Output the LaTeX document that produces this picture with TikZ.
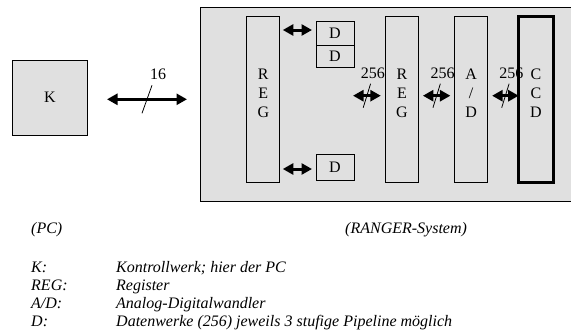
\documentclass[tikz,border=0pt]{standalone}
\usepackage{fontspec}
\setmainfont{Liberation Serif}
\usetikzlibrary{arrows.meta, calc, positioning}
\definecolor{panel}{HTML}{E0E0E0}
\tikzset{
  unit/.style={draw, fill=panel, line width=1pt, inner sep=0pt, outer sep=0pt},
  col/.style={unit, minimum width=33pt, minimum height=166pt},
  coltext/.style={align=center, inner sep=0pt},
  dbox/.style={unit, minimum width=38pt},
  bus/.style={{Triangle[length=10.5pt,width=11pt]}-{Triangle[length=10.5pt,width=11pt]}, line width=3pt},
  slash/.style={line width=0.8pt},
  legend/.style={font=\fontsize{16}{16}\selectfont\itshape, anchor=base west, inner sep=0pt,
    text height=11pt, text depth=3.5pt},
}

\begin{document}
\begin{tikzpicture}[x=1pt, y=-1pt, font=\fontsize{16}{19}\selectfont]
\useasboundingbox (0,0) rectangle (571,333);
\node[unit, minimum size=75pt] (K) at (50,97.5) {K};
\node[unit, line width=0.8pt, minimum width=380pt, minimum height=194.4pt] (ranger) at (390,104.5) {};
\node[col] (reg1) at (263.3,99.7) {};
\node[coltext] (reg1t) at ($(reg1)+(0,-6)$) {R\\E\\G};
\node[dbox, minimum height=24pt] (d1) at (335,33) {D};
\node[dbox, minimum height=22.7pt, below=0pt of d1] (d2) {D};
\node[dbox, minimum height=26pt] (d3) at (335,167) {D};
\node[col] (reg2) at (402,99.7) {};
\node[coltext] (reg2t) at ($(reg2)+(0,-6)$) {R\\E\\G};
\node[col] (ad) at (471.2,99.7) {};
\node[coltext] (adt) at ($(ad)+(0,-6)$) {A\\/\\D};
\node[col, line width=3pt, minimum width=34.6pt] (ccd) at (536,99.7) {};
\node[coltext] (ccdt) at ($(ccd)+(0,-6)$) {C\\C\\D};

% busse
\coordinate (kbus) at (107,99.3);
\coordinate (rbus) at (187,99.3);
\draw[bus] (kbus) -- coordinate[midway] (s16) (rbus);
\draw[bus] ($(reg1.east |- d1.west)+(3,-3)$) -- ($(d1.west)+(-4,-3)$);
\draw[bus] ($(reg1.east |- d3.west)+(3,2)$) -- ($(d3.west)+(-4,2)$);
\draw[bus] ($(d1.east |- reg2.west)+(-1,-4)$) -- coordinate[midway] (sa) ($(reg2.west)+(-4.7,-4)$);
\draw[bus] ($(reg2.east)+(4.4,-4)$) -- coordinate[midway] (sb) ($(ad.west)+(-4.3,-4)$);
\draw[bus] ($(ad.east)+(4.4,-4)$) -- coordinate[midway] (sc) ($(ccd.west)+(0,-4)$);

% querstriche
\draw[slash] ($(s16)+(-5,14)$) -- ($(s16)+(5,-14)$);
\node (l16) at ($(s16)+(11,-25)$) {16};
\draw[slash] ($(sa)+(-3.7,12)$) -- ($(sa)+(3.7,-12)$);
\node (la) at ($(sa)+(6,-22)$) {256};
\draw[slash] ($(sb)+(-3.7,12)$) -- ($(sb)+(3.7,-12)$);
\node (lb) at ($(sb)+(6,-22)$) {256};
\draw[slash] ($(sc)+(-3.7,12)$) -- ($(sc)+(3.7,-12)$);
\node (lc) at ($(sc)+(6,-22)$) {256};

% legende
\node[legend] (pc) at (31,233.3) {(PC)};
\node[legend] (rangerlabel) at (345,233.3) {(RANGER-System)};
\node[legend] (keyk) at (31,272) {K:};
\node[legend] (txtk) at (116,272) {Kontrollwerk; hier der PC};
\node[legend] (keyreg) at (31,290.3) {REG:};
\node[legend] (txtreg) at (116,290.3) {Register};
\node[legend] (keyad) at (31,308.5) {A/D:};
\node[legend] (txtad) at (116,308.5) {Analog-Digitalwandler};
\node[legend] (keyd) at (31,326.5) {D:};
\node[legend] (txtd) at (116,326.5) {Datenwerke (256) jeweils 3 stufige Pipeline möglich};
\end{tikzpicture}
\end{document}
